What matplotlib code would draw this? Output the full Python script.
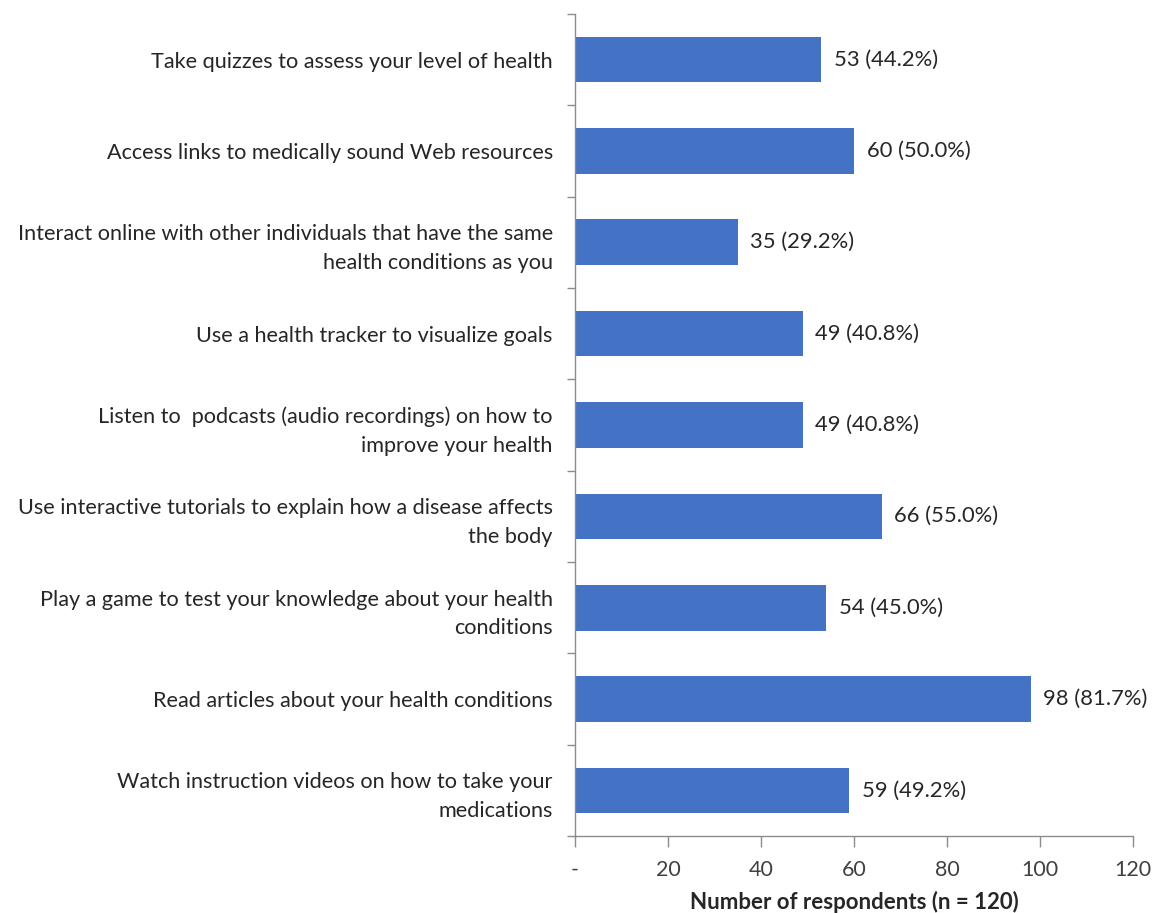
import numpy as np
import matplotlib.pyplot as plt

plt.rcParams['font.family'] = ['Lato', 'DejaVu Sans']

# Survey items (top to bottom) and number of respondents
labels = [
    "Take quizzes to assess your level of health",
    "Access links to medically sound Web resources",
    "Interact online with other individuals that have the same\nhealth conditions as you",
    "Use a health tracker to visualize goals",
    "Listen to  podcasts (audio recordings) on how to\nimprove your health",
    "Use interactive tutorials to explain how a disease affects\nthe body",
    "Play a game to test your knowledge about your health\nconditions",
    "Read articles about your health conditions",
    "Watch instruction videos on how to take your\nmedications",
]
counts = [53, 60, 35, 49, 49, 66, 54, 98, 59]
pcts = [44.2, 50.0, 29.2, 40.8, 40.8, 55.0, 45.0, 81.7, 49.2]
xticks = [0, 20, 40, 60, 80, 100, 120]
xticklabels = ["-", "20", "40", "60", "80", "100", "120"]

fig = plt.figure(figsize=(11.53, 9.13), dpi=100)
ax = fig.add_axes([0.4987, 0.0843, 0.484, 0.9004])

y = np.arange(len(labels))
ax.barh(y, counts, height=0.5, color="#4472C4")

# value labels
for yi, c, p in zip(y, counts, pcts):
    ax.text(c + 2.7, yi, f"{c} ({p:.1f}%)", va="center", ha="left",
            fontsize=15.8, color="#262626")

ax.set_ylim(len(labels) - 0.5, -0.5)
ax.set_xlim(0, 120)

ax.set_yticks(y)
ax.set_yticklabels(labels, fontsize=15.6, color="#262626", linespacing=1.55)
ax.set_yticks(np.arange(len(labels) + 1) - 0.5, minor=True)
ax.tick_params(axis="y", which="major", length=0, pad=16)
ax.tick_params(axis="y", which="minor", length=6, color="#8c8c8c", width=1)

ax.set_xticks(xticks)
ax.set_xticklabels(xticklabels, fontsize=15.5, color="#404040")
ax.tick_params(axis="x", which="major", length=8, color="#8c8c8c", width=1, pad=9)

for s in ["top", "right"]:
    ax.spines[s].set_visible(False)
for s in ["left", "bottom"]:
    ax.spines[s].set_color("#8c8c8c")
    ax.spines[s].set_linewidth(1)

ax.set_xlabel("Number of respondents (n = 120)", fontsize=16,
              fontweight="bold", color="#262626", labelpad=8)

fig.savefig("out.png", dpi=100)
